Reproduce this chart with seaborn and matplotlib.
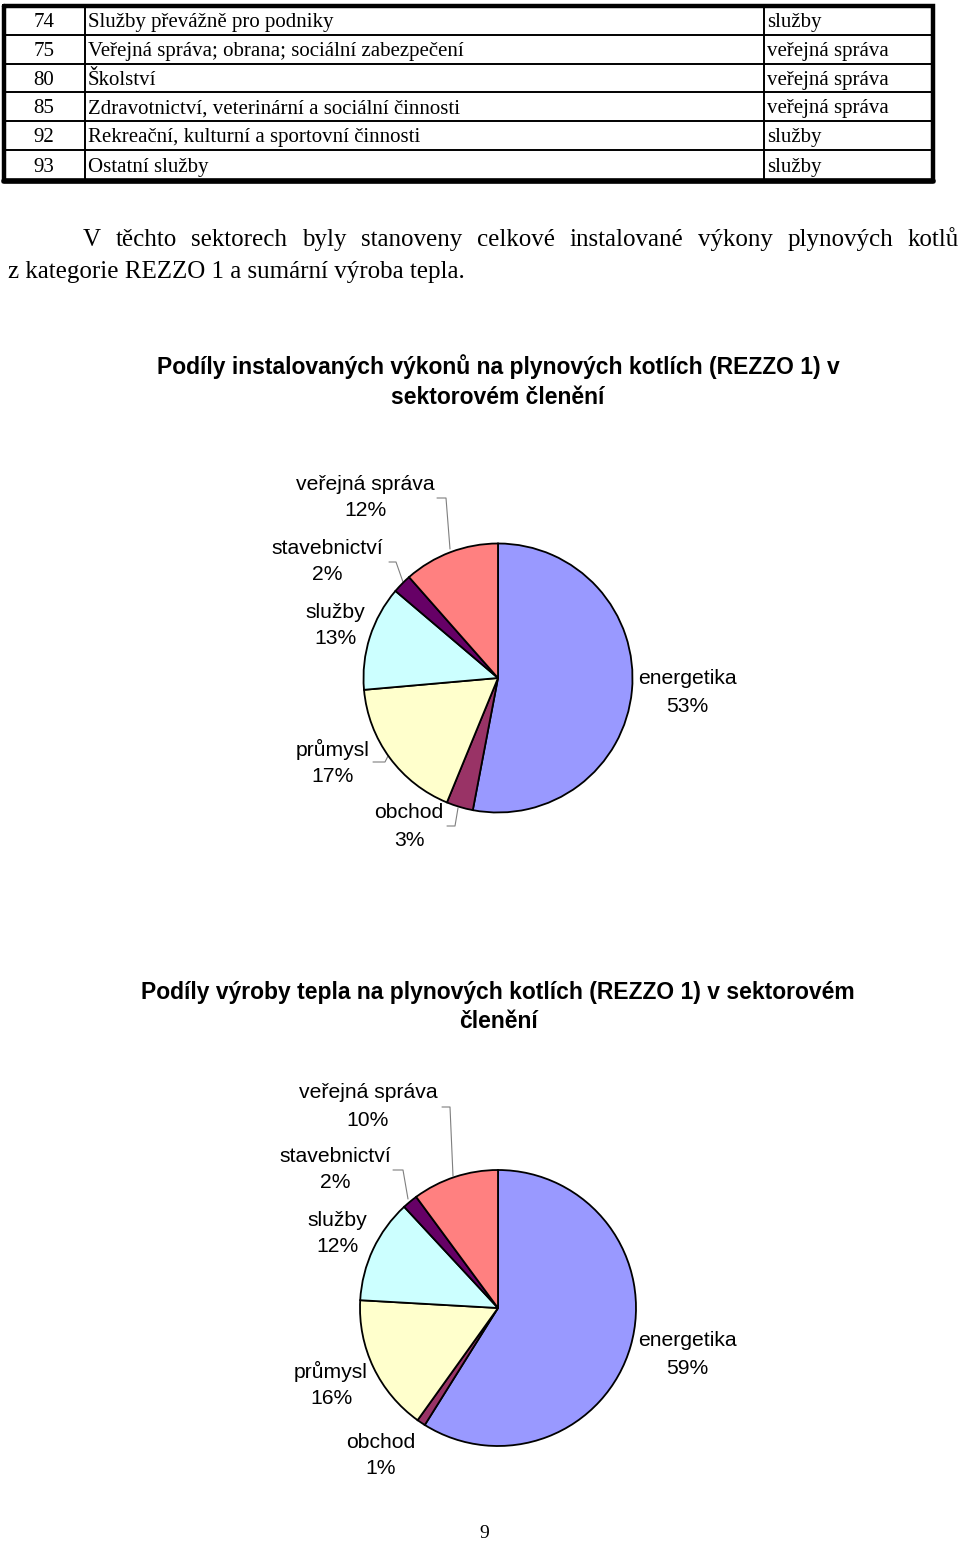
import matplotlib
matplotlib.use("Agg")
import matplotlib.pyplot as plt
import seaborn as sns

sns.set_theme(style="white")
plt.rcParams['font.family'] = ['Liberation Sans', 'DejaVu Sans']
plt.rcParams['text.color'] = 'black'

# ---------------- data ----------------
table_codes = ["74", "75", "80", "85", "92", "93"]
table_names = ["Služby převážně pro podniky",
               "Veřejná správa; obrana; sociální zabezpečení",
               "Školství",
               "Zdravotnictví, veterinární a sociální činnosti",
               "Rekreační, kulturní a sportovní činnosti",
               "Ostatní služby"]
table_sectors = ["služby", "veřejná správa", "veřejná správa",
                 "veřejná správa", "služby", "služby"]

paragraph_line1 = "V těchto sektorech byly stanoveny celkové instalované výkony plynových kotlů"
paragraph_line2 = "z kategorie REZZO 1 a sumární výroba tepla."

sectors = ["energetika", "obchod", "průmysl", "služby", "stavebnictví", "veřejná správa"]
colors = ["#9999FF", "#993366", "#FFFFCC", "#CCFFFF", "#660066", "#FF8080"]

capacity_pct = [53.0, 3.2, 17.4, 12.6, 2.3, 11.5]
heat_pct = [58.9, 1.0, 16.0, 12.2, 1.8, 10.1]

title1 = ["Podíly instalovaných výkonů na plynových kotlích (REZZO 1) v",
          "sektorovém členění"]
title2 = ["Podíly výroby tepla na plynových kotlích (REZZO 1) v sektorovém",
          "členění"]
page_number = "9"

# ---------------- figure ----------------
W, H = 960, 1545
fig = plt.figure(figsize=(W / 100, H / 100), dpi=100)
fig.patch.set_facecolor("white")
page = fig.add_axes([0, 0, 1, 1])
page.set_xlim(0, W)
page.set_ylim(H, 0)
page.axis("off")

serif = ['Liberation Serif', 'DejaVu Serif']

# ---- table ----
row_edges = [5.5, 34.5, 63.5, 92.0, 120.5, 150.0, 180.5]
x_left, x_col1, x_col2, x_right = 4, 84.5, 764, 932.5
for y in row_edges[1:-1]:
    page.plot([x_left, x_right], [y, y], color="black", lw=1.4, solid_capstyle="butt")
for x in (x_col1, x_col2):
    page.plot([x, x], [row_edges[0], row_edges[-1]], color="black", lw=1.4)
page.plot([x_left, x_right, x_right, x_left, x_left],
          [row_edges[0], row_edges[0], row_edges[-1], row_edges[-1], row_edges[0]],
          color="black", lw=3.2, solid_joinstyle="miter")
page.plot([x_left, x_right], [row_edges[-1], row_edges[-1]], color="black", lw=4.0)
for i, (c, n, s) in enumerate(zip(table_codes, table_names, table_sectors)):
    yc = (row_edges[i] + row_edges[i + 1]) / 2 + 2.5
    page.text(44, yc, c, family=serif, fontsize=15, ha="center", va="center")
    page.text(88, yc, n, family=serif, fontsize=15, ha="left", va="center")
    page.text(767, yc, s, family=serif, fontsize=15, ha="left", va="center")

# ---- paragraph (justified first line) ----
fig.canvas.draw()
renderer = fig.canvas.get_renderer()
words = paragraph_line1.split(" ")
x_start, x_end, y1 = 83, 959, 240
word_texts = [page.text(0, y1, w, family=serif, fontsize=18, ha="left", va="center")
              for w in words]
widths = []
for t in word_texts:
    bb = t.get_window_extent(renderer=renderer)
    widths.append(bb.width)
gap = (x_end - x_start - sum(widths)) / (len(words) - 1)
x = x_start
for t, w in zip(word_texts, widths):
    t.set_x(x)
    x += w + gap
page.text(8, 272, paragraph_line2, family=serif, fontsize=18, ha="left", va="center")

# ---- pies ----
def draw_pie(cx, cy, r, values, title_lines, title_y, label_pos, leaders):
    pad = 1.04
    ax = fig.add_axes([(cx - r * pad) / W, 1 - (cy + r * pad) / H,
                       2 * r * pad / W, 2 * r * pad / H])
    ax.pie(values, colors=colors, startangle=90, counterclock=False,
           wedgeprops=dict(edgecolor="black", linewidth=1.3))
    ax.set_xlim(-pad, pad)
    ax.set_ylim(-pad, pad)
    ax.set_aspect("equal")
    ax.axis("off")
    for i, line in enumerate(title_lines):
        page.text(498, title_y + 30 * i, line, fontsize=16.5, fontweight="bold",
                  ha="center", va="center")
    for name, val, (lx, ly) in zip(sectors, values, label_pos):
        page.text(lx, ly, name, fontsize=15.2, ha="center", va="center")
        page.text(lx, ly + 27, f"{int(val + 0.5)}%", fontsize=15.2,
                  ha="center", va="center")
    for xs, ys in leaders:
        page.plot(xs, ys, color="#7f7f7f", lw=0.8)

draw_pie(498, 678, 134.5, capacity_pct, title1, 367,
         [(687, 679), (409, 813), (333, 749), (335, 612), (327, 548), (365, 484)],
         [([437, 446, 450], [498, 498, 549]),
          ([389, 396, 403], [562, 562, 582]),
          ([373, 385, 388], [762, 762, 756]),
          ([447, 455, 458], [826, 826, 808])])

draw_pie(498, 1308, 138, heat_pct, title2, 992,
         [(687, 1341), (381, 1442), (331, 1371), (337, 1220), (335, 1156), (368, 1093)],
         [([442, 450, 453], [1107, 1107, 1176]),
          ([393, 403, 408], [1170, 1170, 1199])])

page.text(484, 1534, page_number, family=serif, fontsize=14, ha="center", va="center")

fig.savefig("out.png", dpi=100, facecolor="white")
